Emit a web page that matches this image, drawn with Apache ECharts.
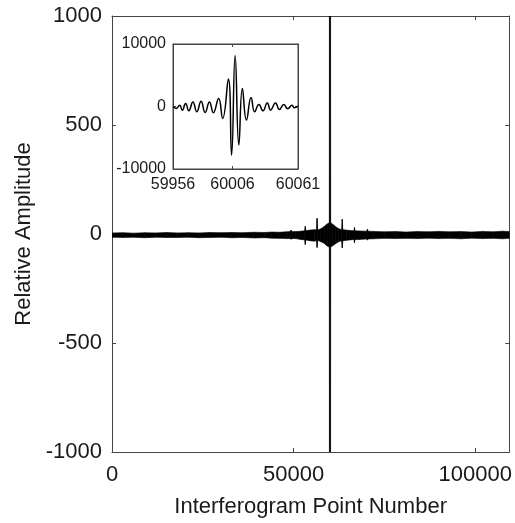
<!DOCTYPE html>
<html>
<head>
<meta charset="utf-8">
<script src="https://cdn.jsdelivr.net/npm/echarts@6/dist/echarts.min.js"></script>
<style>
html,body{margin:0;padding:0;background:#fff;}
#c{width:515px;height:523px;}
</style>
</head>
<body>
<div id="c"></div>
<script>
// ---- Main interferogram: envelope of the trace ----
const mainX = [0, 3000, 6000, 9000, 12000, 15000, 18000, 21000, 24000, 27000, 30000, 33000, 36000, 39000, 42000, 44000, 46000, 48000, 49150, 49300, 49450, 50500, 52000, 53050, 53200, 53350, 54500, 55800, 56300, 56450, 56600, 57500, 58500, 59200, 59820, 60006, 60190, 60800, 61500, 62400, 63230, 63380, 63530, 64500, 65500, 66600, 66750, 66900, 68000, 70150, 70300, 70450, 72000, 75000, 78000, 81000, 84000, 87000, 90000, 93000, 96000, 99000, 102000, 105000, 107500, 109350];
const mainUpper = [5, 6, 4, 6, 5, 7, 5, 6, 5, 7, 6, 7, 6, 8, 7, 9, 8, 10, 11, 18, 11, 11, 13, 15, 35, 15, 18, 20, 18, 72, 18, 24, 36, 46, 52, 8150, 52, 44, 34, 24, 20, 68, 20, 18, 16, 15, 30, 15, 14, 13, 22, 13, 12, 10, 11, 9, 11, 10, 12, 10, 11, 9, 12, 10, 13, 11];
const mainLower = [-15, -16, -15, -17, -15, -16, -16, -15, -17, -16, -15, -17, -16, -18, -17, -19, -20, -21, -21, -24, -21, -21, -25, -27, -48, -27, -31, -33, -29, -62, -29, -35, -44, -55, -60, -7830, -60, -53, -45, -35, -31, -64, -31, -29, -27, -25, -40, -25, -25, -23, -28, -23, -22, -20, -21, -20, -21, -19, -21, -20, -22, -19, -21, -20, -22, -20];
const mainXTicks = [0, 50000, 100000];
const mainYTicks = [-1000, -500, 0, 500, 1000];

// ---- Inset: centerburst detail (turning points) ----
const insetX = [59956, 59958.8, 59961.6, 59963.8, 59966.6, 59969.3, 59972.7, 59976, 59979.6, 59983, 59986.6, 59989.9, 59994.3, 59997.7, 60002.5, 60005.2, 60008.2, 60011.3, 60014.3, 60017.7, 60021.6, 60024.6, 60028.2, 60031.6, 60035.2, 60038, 60042.1, 60045.4, 60049.1, 60052.4, 60056, 60058, 60061];
const insetY = [0, -300, 200, -580, 480, -690, 740, -850, 850, -950, 740, -1000, 1270, -1900, 4400, -7800, 8150, -6140, 2900, -2170, 1450, -850, 320, -690, 580, -580, 580, -480, 320, -370, 210, -210, 50];
const insetXTicks = [59956, 60006, 60061];
const insetYTicks = [-10000, 0, 10000];

const FONT = 'Liberation Sans, Arial, Helvetica, sans-serif';
const AX = '#444';
const TXT = '#1a1a1a';
const plain = v => String(v);

// segments of the envelope band: [x0, up0, lo0, x1, up1, lo1]
const bandSegments = [];
for (let i = 0; i < mainX.length - 1; i++) {
  bandSegments.push([mainX[i], mainUpper[i], mainLower[i], mainX[i + 1], mainUpper[i + 1], mainLower[i + 1]]);
}

const chart = echarts.init(document.getElementById('c'), null, {renderer: 'canvas'});

function frameAxis(base) {
  return Object.assign({
    axisLine: {show: true, onZero: false, lineStyle: {color: AX, width: 1}},
    axisTick: {show: true, inside: true, length: 4, lineStyle: {color: AX}},
    splitLine: {show: false},
    axisLabel: {show: false}
  }, base);
}

const option = {
  animation: false,
  backgroundColor: '#fff',
  grid: [
    {left: 112, right: 5, top: 16, bottom: 69, containLabel: false},
    {left: 173, top: 44, width: 125, height: 125, show: true, backgroundColor: '#fff', borderColor: AX, borderWidth: 1, z: 5}
  ],
  xAxis: [
    frameAxis({type: 'value', gridIndex: 0, position: 'bottom', min: 0, max: 109350,
      axisTick: {show: true, inside: true, length: 4, lineStyle: {color: AX}, customValues: mainXTicks},
      axisLabel: {show: true, customValues: mainXTicks, formatter: plain, fontSize: 22, fontFamily: FONT, color: TXT, margin: 12},
      name: 'Interferogram Point Number', nameLocation: 'middle', nameGap: 44,
      nameTextStyle: {fontSize: 22, fontFamily: FONT, color: TXT}}),
    frameAxis({type: 'value', gridIndex: 0, position: 'top', min: 0, max: 109350,
      axisTick: {show: true, inside: true, length: 4, lineStyle: {color: AX}, customValues: mainXTicks}}),
    frameAxis({type: 'value', gridIndex: 1, position: 'bottom', min: 59956, max: 60061, z: 6,
      axisTick: {show: true, inside: true, length: 3, lineStyle: {color: AX}, customValues: insetXTicks},
      axisLabel: {show: true, customValues: insetXTicks, formatter: plain, fontSize: 16, fontFamily: FONT, color: TXT, margin: 8}}),
    frameAxis({type: 'value', gridIndex: 1, position: 'top', min: 59956, max: 60061, z: 6,
      axisTick: {show: true, inside: true, length: 3, lineStyle: {color: AX}, customValues: insetXTicks}})
  ],
  yAxis: [
    frameAxis({type: 'value', gridIndex: 0, position: 'left', min: -1000, max: 1000, interval: 500,
      axisLabel: {show: true, formatter: plain, fontSize: 22, fontFamily: FONT, color: TXT, margin: 10},
      name: 'Relative Amplitude', nameLocation: 'middle', nameGap: 76,
      nameTextStyle: {fontSize: 22, fontFamily: FONT, color: TXT}}),
    frameAxis({type: 'value', gridIndex: 0, position: 'right', min: -1000, max: 1000, interval: 500}),
    frameAxis({type: 'value', gridIndex: 1, position: 'left', min: -10000, max: 10000, interval: 10000, z: 6,
      axisTick: {show: true, inside: true, length: 3, lineStyle: {color: AX}},
      axisLabel: {show: true, formatter: plain, fontSize: 16, fontFamily: FONT, color: TXT, margin: 7}}),
    frameAxis({type: 'value', gridIndex: 1, position: 'right', min: -10000, max: 10000, interval: 10000, z: 6,
      axisTick: {show: true, inside: true, length: 3, lineStyle: {color: AX}}})
  ],
  series: [
    {
      type: 'custom', xAxisIndex: 0, yAxisIndex: 0, clip: true, z: 2,
      data: bandSegments,
      encode: {x: [0, 3], y: [1, 2, 4, 5]},
      renderItem: function (params, api) {
        const a = api.coord([api.value(0), api.value(1)]);
        const b = api.coord([api.value(3), api.value(4)]);
        const c = api.coord([api.value(3), api.value(5)]);
        const d = api.coord([api.value(0), api.value(2)]);
        return {
          type: 'polygon',
          shape: {points: [a, b, c, d]},
          style: {fill: '#000', stroke: '#000', lineWidth: 0.6}
        };
      }
    },
    {
      type: 'line', xAxisIndex: 2, yAxisIndex: 2,
      data: insetX.map((x, i) => [x, insetY[i]]),
      symbol: 'none', smooth: 0.5, clip: true, z: 7,
      lineStyle: {color: '#000', width: 1.5}
    }
  ]
};
chart.setOption(option);
</script>
</body>
</html>
